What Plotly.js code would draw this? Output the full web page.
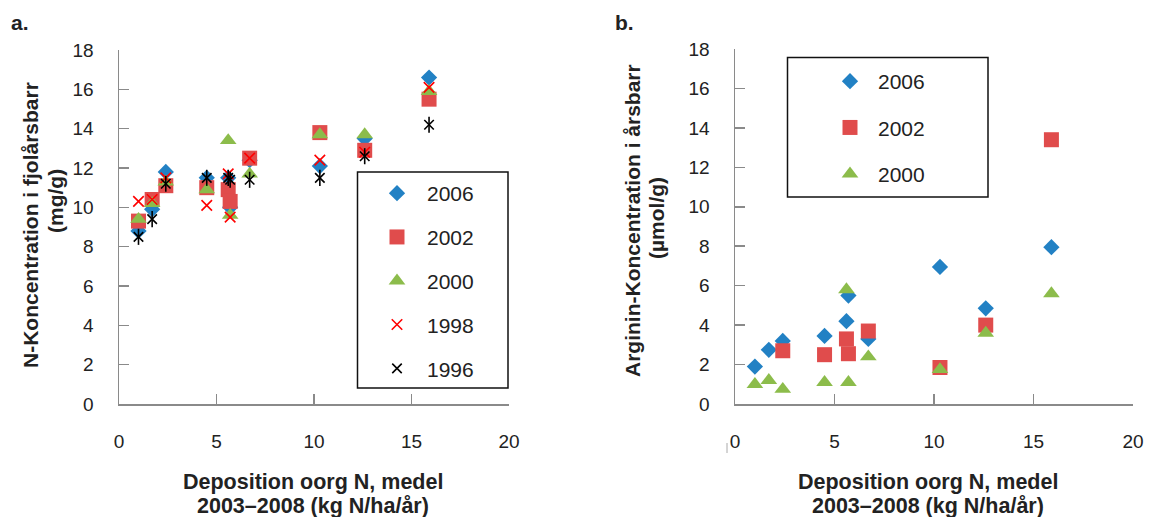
<!DOCTYPE html>
<html>
<head>
<meta charset="utf-8">
<script src="https://cdn.plot.ly/plotly-3.0.1.min.js"></script>
<style>html,body{margin:0;padding:0;background:#fff;}#chart{width:1149px;height:517px;}</style>
</head>
<body>
<div id="chart"></div>
<script>
// Deposition oorg N, medel 2003–2008 (kg N/ha/år) per site
const deposition = [1.0, 1.7, 2.4, 4.5, 5.6, 5.7, 6.7, 10.3, 12.6, 15.9];

// Panel a: N-Koncentration i fjolårsbarr (mg/g)
const nConc2006 = [8.8, 9.9, 11.8, 11.5, 11.5, 10.0, 12.4, 12.1, 13.5, 16.6];
const nConc2002 = [9.3, 10.4, 11.1, 11.0, 10.9, 10.3, 12.5, 13.8, 12.9, 15.5];
const nConc2000 = [9.4, 10.2, 11.3, 10.9, 13.4, 9.6, 11.7, 13.7, 13.7, 15.9];
const nConc1998 = [10.3, 10.4, 11.5, 10.1, 11.7, 9.5, 12.5, 12.4, 12.8, 16.1];
const nConc1996 = [8.5, 9.4, 11.2, 11.5, 11.5, 11.4, 11.4, 11.5, 12.6, 14.2];

// Panel b: Arginin-Koncentration i årsbarr (µmol/g)
const arg2006 = [1.9, 2.75, 3.2, 3.45, 4.2, 5.5, 3.3, 6.95, 4.85, 7.95];
const arg2002 = [null, null, 2.7, 2.5, 3.3, 2.55, 3.7, 1.85, 4.0, 13.4];
const arg2000 = [1.0, 1.2, 0.75, 1.1, 5.8, 1.1, 2.4, 1.75, 3.6, 5.6];

const years = ['2006', '2002', '2000', '1998', '1996'];
const xTicks = [0, 5, 10, 15, 20];
const yTicks = [0, 2, 4, 6, 8, 10, 12, 14, 16, 18];

const BLUE = '#2281c4', RED = '#e04c4c', GREEN = '#8cbc4b', XRED = '#ff0000', BLACK = '#000000';
const FONT = 'Liberation Sans, Arial, sans-serif';

function mk(x, y, name, axis, legend, marker, show, group) {
  return {type: 'scatter', mode: 'markers', x: x, y: y, name: name,
    xaxis: axis[0], yaxis: axis[1], legend: legend, legendgroup: group || name,
    showlegend: show !== false, marker: marker, hoverinfo: 'x+y+name', cliponaxis: false};
}
const mDia = {symbol: 'diamond', size: 12.5, color: BLUE, line: {width: 0}};
const mSq = {symbol: 'square', size: 15, color: RED, line: {width: 0}};
const mTri = {symbol: 'triangle-up', size: 14.5, color: GREEN, line: {width: 0}};
const mX = {symbol: 'x-thin-open', size: 10.5, color: XRED, line: {width: 1.6, color: XRED}};
const mAst = {symbol: 'x-thin-open', size: 9.5, color: BLACK, line: {width: 1.6, color: BLACK}};
const mAstV = {symbol: 'line-ns-open', size: 11.5, color: BLACK, line: {width: 1.6, color: BLACK}};

const A = ['x', 'y'], B = ['x2', 'y2'];
const data = [
  mk(deposition, nConc2006, years[0], A, 'legend', mDia),
  mk(deposition, nConc2002, years[1], A, 'legend', mSq),
  mk(deposition, nConc2000, years[2], A, 'legend', mTri),
  mk(deposition, nConc1998, years[3], A, 'legend', mX),
  mk(deposition, nConc1996, years[4], A, 'legend', mAst),
  mk(deposition, nConc1996, years[4], A, 'legend', mAstV, false, years[4]),
  mk(deposition, arg2006, years[0], B, 'legend2', mDia, true, 'b2006'),
  mk(deposition, arg2002, years[1], B, 'legend2', mSq, true, 'b2002'),
  mk(deposition, arg2000, years[2], B, 'legend2', mTri, true, 'b2000')
];

const W = 1149, H = 517;
const px = v => v / W, py = v => 1 - v / H;
const axCommon = {showline: true, linecolor: '#8a8a8a', linewidth: 1.5, ticks: 'inside', ticklen: 10,
  tickwidth: 1.5, tickcolor: '#8a8a8a', showgrid: false, zeroline: false, fixedrange: true,
  tickfont: {family: FONT, size: 19, color: '#222'}, ticklabelstandoff: 20};
const xax = Object.assign({}, axCommon, {range: [0, 20], tickvals: xTicks, ticktext: xTicks.map(String)});
const yax = Object.assign({}, axCommon, {range: [0, 18], tickvals: yTicks, ticktext: yTicks.map(String)});

const titleFont = {family: FONT, size: 21, color: '#222'};
function ann(text, x, y, angle, size) {
  return {text: '<b>' + text + '</b>', x: px(x), y: py(y), xref: 'paper', yref: 'paper',
    showarrow: false, xanchor: 'center', yanchor: 'middle', textangle: angle || 0,
    font: Object.assign({}, titleFont, size ? {size: size} : {})};
}

const layout = {
  width: W, height: H, margin: {l: 0, r: 0, t: 0, b: 0},
  paper_bgcolor: '#fff', plot_bgcolor: 'rgba(0,0,0,0)',
  xaxis: Object.assign({}, xax, {domain: [px(119), px(509)], anchor: 'y'}),
  yaxis: Object.assign({}, yax, {domain: [py(404), py(50)], anchor: 'x'}),
  xaxis2: Object.assign({}, xax, {domain: [px(735), px(1133)], anchor: 'y2'}),
  yaxis2: Object.assign({}, yax, {domain: [py(404), py(49)], anchor: 'x2'}),
  legend: {x: px(367), y: py(173), xanchor: 'left', yanchor: 'top', bgcolor: 'rgba(0,0,0,0)',
    borderwidth: 0, itemwidth: 50, tracegroupgap: 13.5, traceorder: 'grouped',
    font: {family: FONT, size: 21, color: '#222'}},
  legend2: {x: px(822), y: py(61), xanchor: 'left', yanchor: 'top', bgcolor: 'rgba(0,0,0,0)',
    borderwidth: 0, itemwidth: 46, tracegroupgap: 16, traceorder: 'grouped',
    font: {family: FONT, size: 21, color: '#222'}},
  shapes: [
    {type: 'rect', xref: 'paper', yref: 'paper', x0: px(357.5), x1: px(508), y0: py(388), y1: py(172),
      line: {color: '#111', width: 1.5}, fillcolor: 'rgba(0,0,0,0)'},
    {type: 'rect', xref: 'paper', yref: 'paper', x0: px(787.5), x1: px(988), y0: py(197), y1: py(57.5),
      line: {color: '#111', width: 1.5}, fillcolor: 'rgba(0,0,0,0)'},
    {type: 'line', xref: 'paper', yref: 'paper', x0: px(727), x1: px(727), y0: py(443), y1: py(453),
      line: {color: '#aaa', width: 1}}
  ],
  annotations: [
    ann('a.', 20, 23, 0, 21),
    ann('b.', 624, 23, 0, 21),
    ann('N-Koncentration i fjolårsbarr', 30, 225, -90),
    ann('(mg/g)', 55, 201, -90),
    ann('Arginin-Koncentration i årsbarr', 632, 221, -90),
    ann('(µmol/g)', 656, 218, -90),
    ann('Deposition oorg N, medel', 313, 482, 0, 21.5),
    ann('2003–2008 (kg N/ha/år)', 313, 506, 0, 21.5),
    ann('Deposition oorg N, medel', 928, 482, 0, 21.5),
    ann('2003–2008 (kg N/ha/år)', 928, 506, 0, 21.5)
  ],
  showlegend: true
};

Plotly.newPlot('chart', data, layout, {displayModeBar: false, staticPlot: true});
</script>
</body>
</html>
